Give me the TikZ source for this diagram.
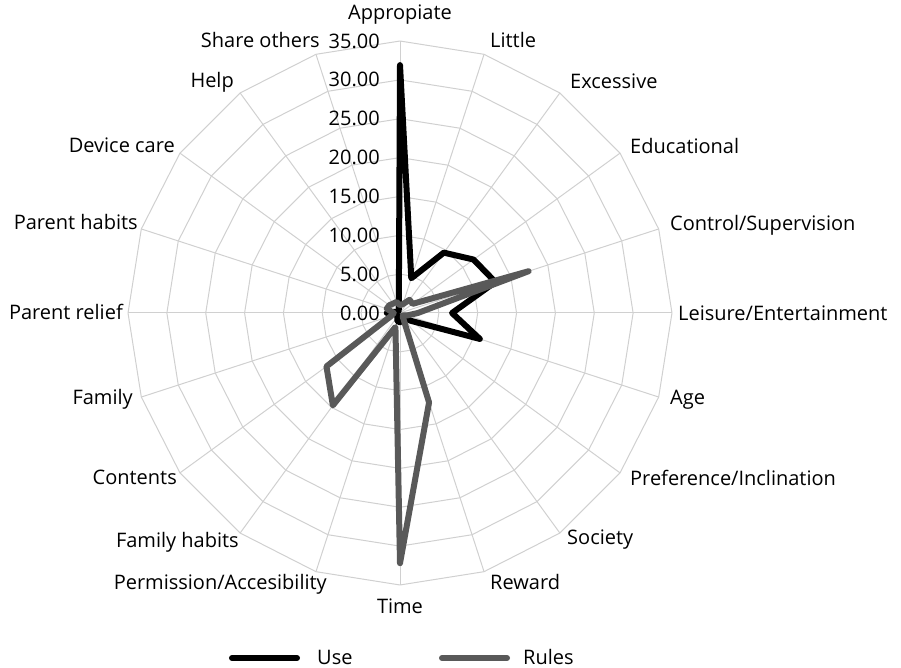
\documentclass[tikz,border=0pt]{standalone}
\usepackage{fontspec}
\setmainfont{Open Sans}
\usetikzlibrary{positioning}
\definecolor{webgray}{RGB}{208,208,208}
\definecolor{rulesgray}{RGB}{89,89,89}
\tikzstyle{webline} = [draw=webgray, line width=1pt]
\tikzstyle{axlabel} = [inner sep=0pt, font=\fontsize{20}{24}\selectfont]
\tikzstyle{leglabel} = [axlabel, text depth=0pt, anchor=base west]
\tikzstyle{uselin} = [draw=black, line width=6pt, line join=round, line cap=round]
\tikzstyle{ruleslin} = [draw=rulesgray, line width=6pt, line join=round, line cap=round]
\def\sc{7.771}

\begin{document}
\begin{tikzpicture}[x=1pt,y=1pt]
  \useasboundingbox (-400,-355) rectangle (501,313);
  \foreach \r in {1,...,7}
    \draw[webline] (90:\r*5*\sc) \foreach \i in {1,...,19}{-- ({90-18*\i}:\r*5*\sc)} -- cycle;
  \foreach \i in {0,...,19}
    \draw[webline] (0,0) -- ({90-18*\i}:35*\sc);
  \foreach \v [count=\i from 0] in {31.9,4.7,9.6,11.7,12.9,6.7,10.8,1.7,0.6,0.5,1.2,1.1,0.6,0.5,0.5,1.7,0.5,0.4,0.3,0.5}
    \coordinate (u\i) at ({90-18*\i}:\v*\sc);
  \foreach \v [count=\i from 0] in {1.0,1.2,2.1,2.0,17.4,2.3,1.0,0.5,0.6,12.1,32.2,1.9,14.7,11.7,1.2,0.8,1.8,1.7,1.5,1.5}
    \coordinate (r\i) at ({90-18*\i}:\v*\sc);
  \draw[uselin] (u0) \foreach \i in {1,...,19}{-- (u\i)} -- cycle;
  \draw[ruleslin] (r0) \foreach \i in {1,...,19}{-- (r\i)} -- cycle;
  \foreach \t [count=\r from 0] in {0.00,5.00,10.00,15.00,20.00,25.00,30.00,35.00}
    \node[axlabel, anchor=east] (val\r) at (-20,\r*5*\sc) {\t};
  \node[axlabel] (appropiate) at (0,298) {Appropiate};
  \node[axlabel, anchor=west] (little) at (90,273) {Little};
  \node[axlabel, anchor=west] (excessive) at (170,232) {Excessive};
  \node[axlabel, anchor=west] (educational) at (230,167) {Educational};
  \node[axlabel, anchor=west] (control) at (270,88) {Control/Supervision};
  \node[axlabel, anchor=west] (leisure) at (278,0) {Leisure/Entertainment};
  \node[axlabel, anchor=west] (age) at (270,-87) {Age};
  \node[axlabel, anchor=west] (preference) at (230,-165) {Preference/Inclination};
  \node[axlabel, anchor=west] (society) at (167,-227) {Society};
  \node[axlabel, anchor=west] (reward) at (90,-269) {Reward};
  \node[axlabel] (time) at (0,-293) {Time};
  \node[axlabel, anchor=east] (permission) at (-73,-271) {Permission/Accesibility};
  \node[axlabel, anchor=east] (famhabits) at (-161,-229) {Family habits};
  \node[axlabel, anchor=east] (contents) at (-223,-164) {Contents};
  \node[axlabel, anchor=east] (family) at (-267,-86) {Family};
  \node[axlabel, anchor=east] (relief) at (-277,1) {Parent relief};
  \node[axlabel, anchor=east] (parhabits) at (-262,91) {Parent habits};
  \node[axlabel, anchor=east] (devcare) at (-225,168) {Device care};
  \node[axlabel, anchor=east] (help) at (-166,231) {Help};
  \node[axlabel, anchor=east] (share) at (-80,273) {Share others};
  \coordinate (usea) at (-168,-345);
  \coordinate (useb) at (-103,-345);
  \coordinate (rulesa) at (42,-345);
  \coordinate (rulesb) at (107,-345);
  \draw[uselin] (usea) -- (useb);
  \draw[ruleslin] (rulesa) -- (rulesb);
  \node[leglabel] (use) at (-83,-351) {Use};
  \node[leglabel] (rules) at (123,-351) {Rules};
\end{tikzpicture}
\end{document}
